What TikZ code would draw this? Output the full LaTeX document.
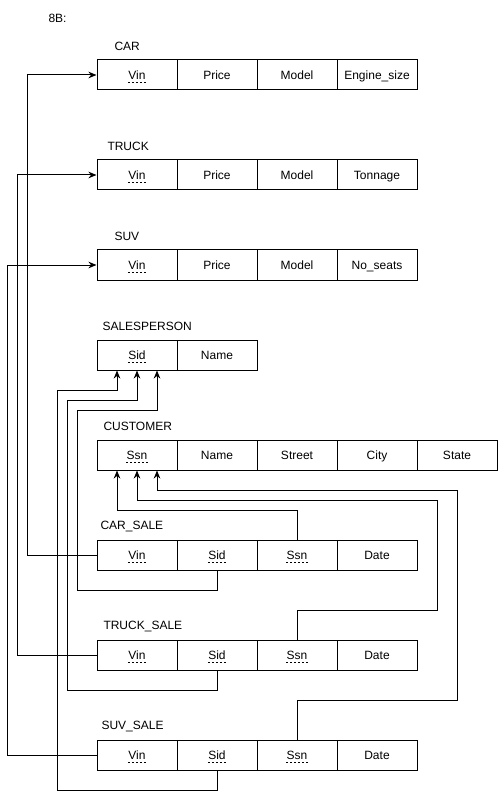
\documentclass[tikz,border=0pt]{standalone}
\usepackage{fontspec}
\setmainfont{Liberation Sans}
\usetikzlibrary{arrows.meta}
\begin{document}
\begin{tikzpicture}[x=1pt,y=-1pt,line width=1pt,
  cell/.style={draw,minimum width=80pt,minimum height=30pt,inner sep=0pt,text height=10pt,text depth=1pt,font=\fontsize{12}{14}\selectfont},
  keytext/.style={inner sep=0pt,text height=10pt,text depth=1pt,font=\fontsize{12}{14}\selectfont},
  title/.style={anchor=west,inner sep=0pt,font=\fontsize{12}{14}\selectfont},
  uline/.style={line width=0.6pt,dash pattern=on 2pt off 2pt},
  conn/.style={line width=1pt},
  fk/.style={conn,-{Stealth[length=8pt,width=6.5pt,inset=2.5pt]}}]
\useasboundingbox (0,0) rectangle (498,799);
% titles
\node[title] (t8b) at (48,18) {8B:};
\node[title] (tcar) at (114,46) {CAR};
\node[title] (ttruck) at (107,146) {TRUCK};
\node[title] (tsuv) at (114,236) {SUV};
\node[title] (tsp) at (102,326) {SALESPERSON};
\node[title] (tcu) at (103,426) {CUSTOMER};
\node[title] (tcs) at (100,526) {CAR\_SALE};
\node[title] (tts) at (103,626) {TRUCK\_SALE};
\node[title] (tss) at (101,726) {SUV\_SALE};
% CAR
\node[cell] (carVin) at (137,75) {};
\node[keytext] (carVinT) at (carVin.center) {Vin};
\node[cell] (carPrice) at (217,75) {Price};
\node[cell] (carModel) at (297,75) {Model};
\node[cell] (carEng) at (377,75) {Engine\_size};
% TRUCK
\node[cell] (truckVin) at (137,175) {};
\node[keytext] (truckVinT) at (truckVin.center) {Vin};
\node[cell] (truckPrice) at (217,175) {Price};
\node[cell] (truckModel) at (297,175) {Model};
\node[cell] (truckTon) at (377,175) {Tonnage};
% SUV
\node[cell] (suvVin) at (137,265) {};
\node[keytext] (suvVinT) at (suvVin.center) {Vin};
\node[cell] (suvPrice) at (217,265) {Price};
\node[cell] (suvModel) at (297,265) {Model};
\node[cell] (suvSeats) at (377,265) {No\_seats};
% SALESPERSON
\node[cell] (spSid) at (137,355) {};
\node[keytext] (spSidT) at (spSid.center) {Sid};
\node[cell] (spName) at (217,355) {Name};
% CUSTOMER
\node[cell] (cuSsn) at (137,455) {};
\node[keytext] (cuSsnT) at (cuSsn.center) {Ssn};
\node[cell] (cuName) at (217,455) {Name};
\node[cell] (cuStreet) at (297,455) {Street};
\node[cell] (cuCity) at (377,455) {City};
\node[cell] (cuState) at (457,455) {State};
% CAR_SALE
\node[cell] (csVin) at (137,555) {};
\node[keytext] (csVinT) at (csVin.center) {Vin};
\node[cell] (csSid) at (217,555) {};
\node[keytext] (csSidT) at (csSid.center) {Sid};
\node[cell] (csSsn) at (297,555) {};
\node[keytext] (csSsnT) at (csSsn.center) {Ssn};
\node[cell] (csDate) at (377,555) {Date};
% TRUCK_SALE
\node[cell] (tsVin) at (137,655) {};
\node[keytext] (tsVinT) at (tsVin.center) {Vin};
\node[cell] (tsSid) at (217,655) {};
\node[keytext] (tsSidT) at (tsSid.center) {Sid};
\node[cell] (tsSsn) at (297,655) {};
\node[keytext] (tsSsnT) at (tsSsn.center) {Ssn};
\node[cell] (tsDate) at (377,655) {Date};
% SUV_SALE
\node[cell] (ssVin) at (137,755) {};
\node[keytext] (ssVinT) at (ssVin.center) {Vin};
\node[cell] (ssSid) at (217,755) {};
\node[keytext] (ssSidT) at (ssSid.center) {Sid};
\node[cell] (ssSsn) at (297,755) {};
\node[keytext] (ssSsnT) at (ssSsn.center) {Ssn};
\node[cell] (ssDate) at (377,755) {Date};
% dashed underlines of keys
\foreach \k in {carVinT,truckVinT,suvVinT,spSidT,cuSsnT,csVinT,csSidT,csSsnT,tsVinT,tsSidT,tsSsnT,ssVinT,ssSidT,ssSsnT}{
  \draw[uline] ([yshift=-2.5pt]\k.base west) -- ([yshift=-2.5pt]\k.base east);
}
% Vin foreign keys
\draw[fk] (csVin.west) -- (27,555) -- (27,75) -- (carVin.west);
\draw[fk] (tsVin.west) -- (17,655) -- (17,175) -- (truckVin.west);
\draw[fk] (ssVin.west) -- (7,755) -- (7,265) -- (suvVin.west);
% Sid foreign keys
\draw[fk] (csSid.south) -- (217,590) -- (77,590) -- (77,410) -- (157,410) -- ([xshift=20pt]spSid.south);
\draw[fk] (tsSid.south) -- (217,690) -- (67,690) -- (67,400) -- (137,400) -- (spSid.south);
\draw[fk] (ssSid.south) -- (217,790) -- (57,790) -- (57,390) -- (117,390) -- ([xshift=-20pt]spSid.south);
% Ssn foreign keys
\draw[fk] (csSsn.north) -- (297,510) -- (117,510) -- ([xshift=-20pt]cuSsn.south);
\draw[fk] (tsSsn.north) -- (297,610) -- (437,610) -- (437,500) -- (137,500) -- (cuSsn.south);
\draw[fk] (ssSsn.north) -- (297,700) -- (457,700) -- (457,490) -- (157,490) -- ([xshift=20pt]cuSsn.south);
\end{tikzpicture}
\end{document}
